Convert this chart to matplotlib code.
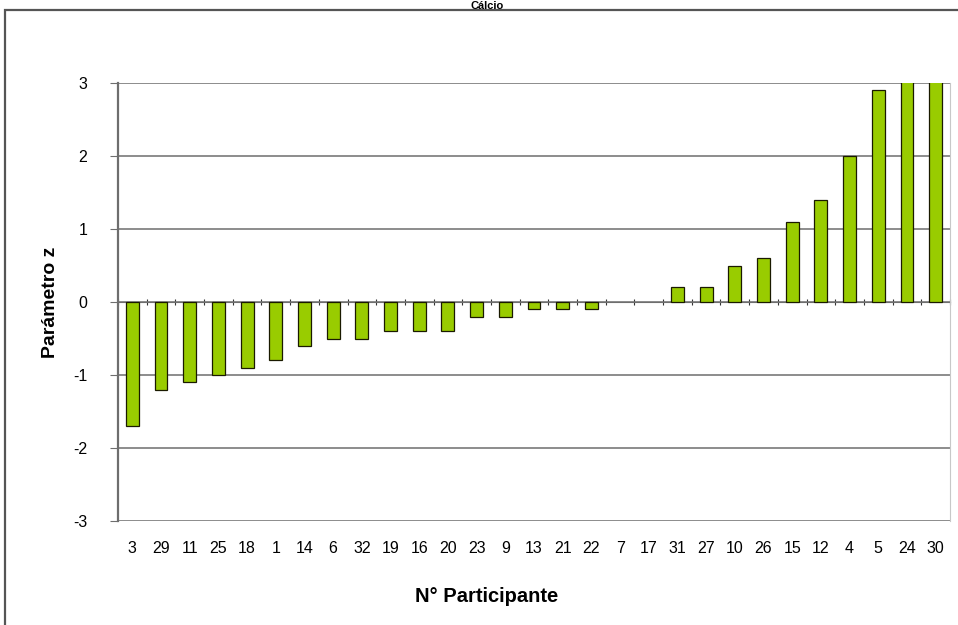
import matplotlib
matplotlib.use('Agg')
import numpy as np
from matplotlib import pyplot as plt
from matplotlib.patches import Rectangle
from matplotlib.transforms import blended_transform_factory

plt.rcParams['font.family'] = ['Liberation Sans', 'DejaVu Sans']

# dados
participantes = ['3', '29', '11', '25', '18', '1', '14', '6', '32', '19', '16', '20', '23', '9',
                 '13', '21', '22', '7', '17', '31', '27', '10', '26', '15', '12', '4', '5', '24', '30']
z = [-1.7, -1.2, -1.1, -1.0, -0.9, -0.8, -0.6, -0.5, -0.5, -0.4, -0.4, -0.4, -0.2, -0.2,
     -0.1, -0.1, -0.1, 0.0, 0.0, 0.2, 0.2, 0.5, 0.6, 1.1, 1.4, 2.0, 2.9, 3.2, 3.4]
y_ticks = [-3, -2, -1, 0, 1, 2, 3]

fig = plt.figure(figsize=(9.58, 6.25), dpi=100)

# moldura externa do grafico (cortada como na imagem)
fig.patches.append(Rectangle((5 / 958, -0.1), 1.2, (625 - 10) / 625 + 0.1,
                             transform=fig.transFigure, fill=False,
                             edgecolor='#555555', lw=1.6, zorder=0))
fig.text(0.508, 0.999, 'Cálcio', ha='center', va='top', fontsize=8, fontweight='bold')

ax = fig.add_axes([118 / 958, (625 - 521) / 625, 832 / 958, 438 / 625])
x = np.arange(len(participantes))
larguras = [0 if v == 0 else 0.9 for v in z]
ax.bar(x, z, width=0.45, color='#99cc00', edgecolor='#1a1a00', lw=larguras, zorder=3)

ax.set_xlim(-0.5, len(participantes) - 0.5)
ax.set_ylim(-3, 3)
ax.set_yticks(y_ticks)
ax.set_yticklabels([str(v) for v in y_ticks], fontsize=11.5)
ax.yaxis.grid(True, color='#6e6e6e', lw=1.1, zorder=1)
ax.tick_params(axis='y', length=6, color='#6e6e6e', direction='out', pad=16)

# eixo das categorias cruza em zero
ax.spines['bottom'].set_position(('data', 0))
ax.spines['bottom'].set_color('#6e6e6e')
ax.spines['bottom'].set_zorder(2)
ax.spines['top'].set_visible(False)
ax.spines['left'].set_color('#6e6e6e')
ax.spines['left'].set_linewidth(1.6)
ax.spines['right'].set_color('#c8c8c8')
ax.set_xticks(np.arange(len(participantes) + 1) - 0.5)
ax.set_xticklabels([])
ax.tick_params(axis='x', length=4, direction='inout', color='#333333')

trans = blended_transform_factory(ax.transData, ax.transAxes)
for i, p in enumerate(participantes):
    ax.text(i, -0.062, p, transform=trans, ha='center', va='center', fontsize=11.5)

ax.set_ylabel('Parámetro z', fontsize=14, fontweight='bold', labelpad=10)
fig.text(0.508, (625 - 597) / 625, 'N° Participante', ha='center', va='center',
         fontsize=14.5, fontweight='bold')

fig.savefig('out.png', dpi=100)
